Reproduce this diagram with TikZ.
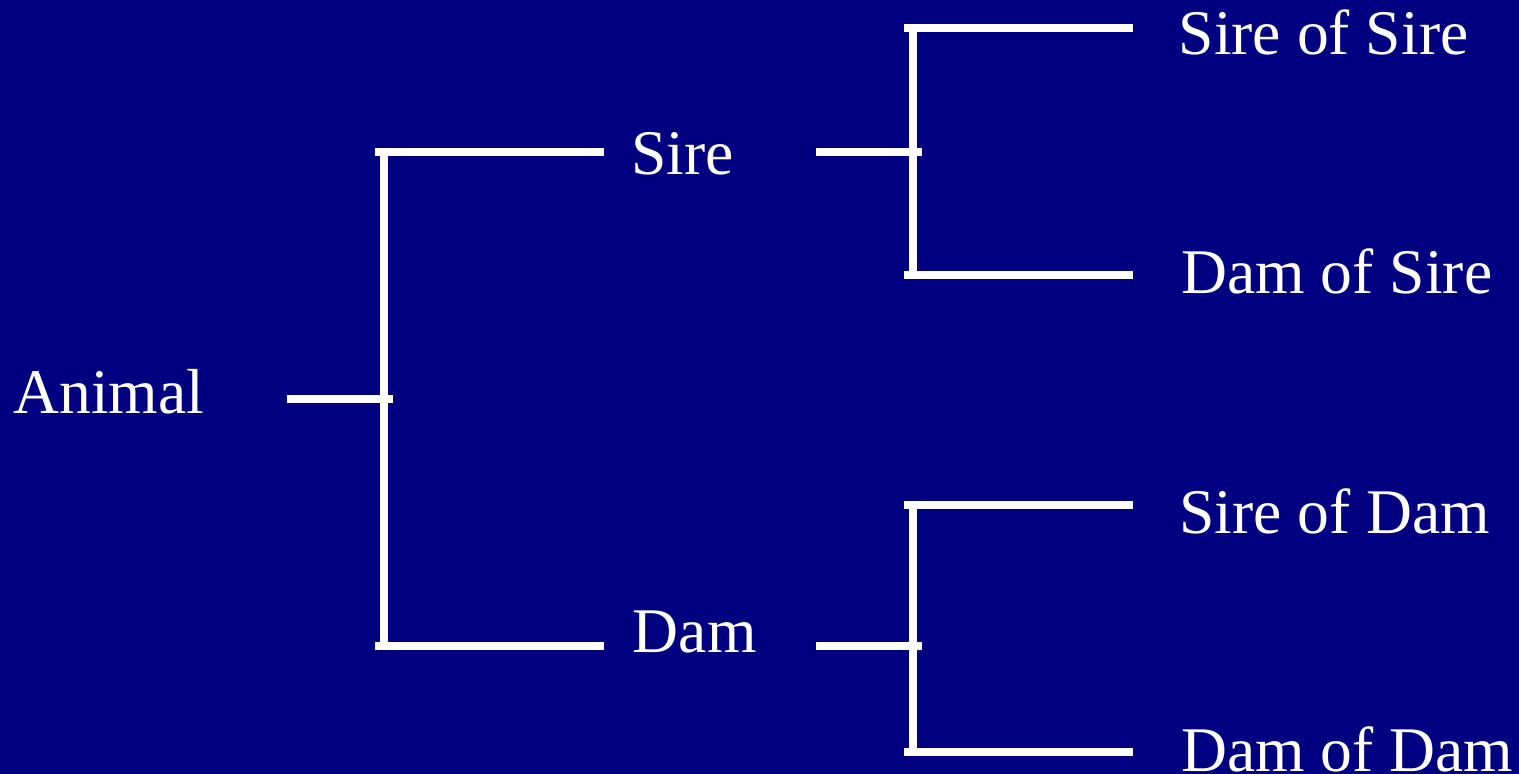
\documentclass[tikz,border=0pt]{standalone}
\usepackage{fontspec}
\setmainfont{Liberation Serif}
\definecolor{navybg}{RGB}{0,0,128}
\tikzset{
  bar/.style={draw=white, line width=3.85pt, line cap=butt},
  label/.style={text=white, inner sep=0pt, anchor=base west,
    font=\fontsize{31.8}{38}\selectfont}
}
\begin{document}
\begin{tikzpicture}[x=0.5pt, y=-0.5pt]
  % canvas
  \fill[navybg] (0,0) rectangle (1519,774);
  \useasboundingbox (0,0) rectangle (1519,774);

  % labels
  \node[label] (animal) at (13,413.5) {Animal};
  \node[label] (sire)   at (630.7,175) {Sire};
  \node[label] (dam)    at (632.5,652) {Dam};
  \node[label] (ss)     at (1178.3,55) {Sire of Sire};
  \node[label] (ds)     at (1181,293.5) {Dam of Sire};
  \node[label] (sd)     at (1179,533) {Sire of Dam};
  \node[label] (dd)     at (1181,771) {Dam of Dam};

  % bracket end points
  \coordinate (a0) at (287.3,399);  \coordinate (a1) at (393,399);
  \coordinate (v0) at (384,148.3);  \coordinate (v1) at (384,650);
  \coordinate (s0) at (375.3,152);  \coordinate (s1) at (604.3,152);
  \coordinate (d0) at (375.3,646);  \coordinate (d1) at (604.3,646);

  \coordinate (ps0) at (816.3,152); \coordinate (ps1) at (921.7,152);
  \coordinate (vu0) at (913.3,24.3); \coordinate (vu1) at (913.3,279.3);
  \coordinate (ss0) at (904.3,28.3); \coordinate (ss1) at (1133.3,28.3);
  \coordinate (ds0) at (904.3,275.3); \coordinate (ds1) at (1133.3,275.3);

  \coordinate (pd0) at (816.3,646); \coordinate (pd1) at (921.7,646);
  \coordinate (vl0) at (913.2,501.3); \coordinate (vl1) at (913.2,756);
  \coordinate (sd0) at (904.3,505); \coordinate (sd1) at (1133.3,505);
  \coordinate (dd0) at (904.3,752); \coordinate (dd1) at (1133.3,752);

  % first generation
  \draw[bar] (a0) -- (a1);
  \draw[bar] (v0) -- (v1);
  \draw[bar] (s0) -- (s1);
  \draw[bar] (d0) -- (d1);

  % second generation, sire side
  \draw[bar] (ps0) -- (ps1);
  \draw[bar] (vu0) -- (vu1);
  \draw[bar] (ss0) -- (ss1);
  \draw[bar] (ds0) -- (ds1);

  % second generation, dam side
  \draw[bar] (pd0) -- (pd1);
  \draw[bar] (vl0) -- (vl1);
  \draw[bar] (sd0) -- (sd1);
  \draw[bar] (dd0) -- (dd1);
\end{tikzpicture}
\end{document}
